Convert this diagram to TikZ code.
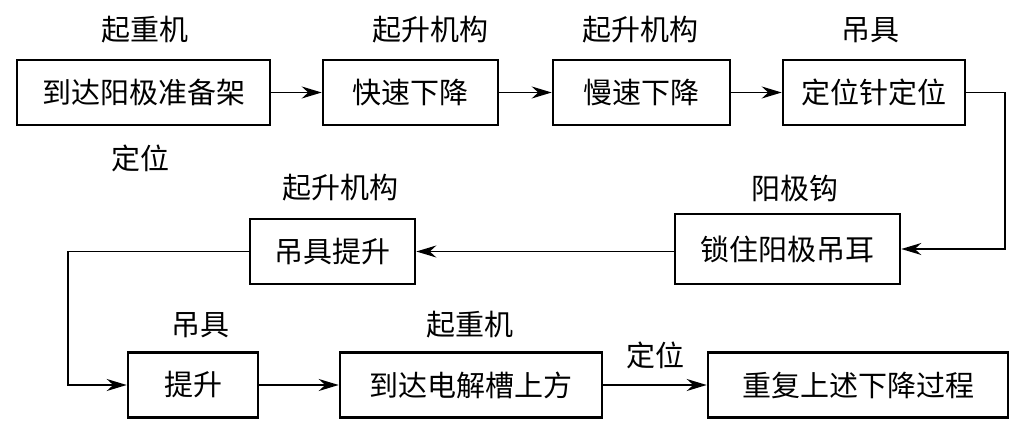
\documentclass[tikz,border=0pt]{standalone}
\usepackage{fontspec}
\newfontfamily\cjk{Noto Sans CJK SC}
\usetikzlibrary{arrows.meta}
\usetikzlibrary{positioning}

\tikzset{
  stage/.style={draw=black, line width=2.6pt, minimum height=65pt, inner sep=0pt, font=\cjk\fontsize{29}{29}\selectfont},
  tag/.style={inner sep=0pt, font=\cjk\fontsize{29}{29}\selectfont},
  flow/.style={line width=1.4pt, -{Stealth[length=20pt, width=12pt]}}
}

\begin{document}
\begin{tikzpicture}[x=1pt, y=1pt]
\useasboundingbox (0,0) rectangle (1024,-427);
% row 1
\node (s1) [stage, minimum width=253pt] at (143.5pt, -92.5pt) {到达阳极准备架};
\node (s2) [stage, minimum width=175pt] at (410.5pt, -92.5pt) {快速下降};
\node (s3) [stage, minimum width=177pt] at (641.5pt, -92.5pt) {慢速下降};
\node (s4) [stage, minimum width=182pt] at (874pt, -92.5pt) {定位针定位};
% row 2
\node (s5) [stage, minimum width=225pt, minimum height=70pt] at (787.5pt, -249pt) {锁住阳极吊耳};
\node (s6) [stage, minimum width=165pt] at (332.5pt, -251.5pt) {吊具提升};
% row 3
\node (s7) [stage, minimum width=130pt] at (193pt, -385pt) {提升};
\node (s8) [stage, minimum width=262pt] at (471pt, -385pt) {到达电解槽上方};
\node (s9) [stage, minimum width=300pt] at (858pt, -385pt) {重复上述下降过程};
% labels
\node (t1) [tag] at (145pt, -30pt) {起重机};
\node (t1b) [tag] at (140pt, -158pt) {定位};
\node (t2) [tag] at (430pt, -30pt) {起升机构};
\node (t3) [tag] at (640pt, -30pt) {起升机构};
\node (t4) [tag] at (870pt, -30pt) {吊具};
\node (t5) [tag] at (795pt, -188pt) {阳极钩};
\node (t6) [tag] at (340pt, -188pt) {起升机构};
\node (t7) [tag] at (200pt, -325pt) {吊具};
\node (t8) [tag] at (470pt, -325pt) {起重机};
\node (t9) [tag] at (655pt, -355pt) {定位};
\coordinate (c1) at (1005pt, -92.5pt);
\coordinate (c2) at (68pt, -251.5pt);
% connectors
\draw [flow] (s1) -- (s2);
\draw [flow] (s2) -- (s3);
\draw [flow] (s3) -- (s4);
\draw [flow] (s4.east) -- (c1) |- (s5.east);
\draw [flow] (s5.west |- s6) -- (s6);
\draw [flow] (s6.west) -- (c2) |- (s7.west);
\draw [flow] (s7) -- (s8);
\draw [flow] (s8) -- (s9);
\end{tikzpicture}
\end{document}
